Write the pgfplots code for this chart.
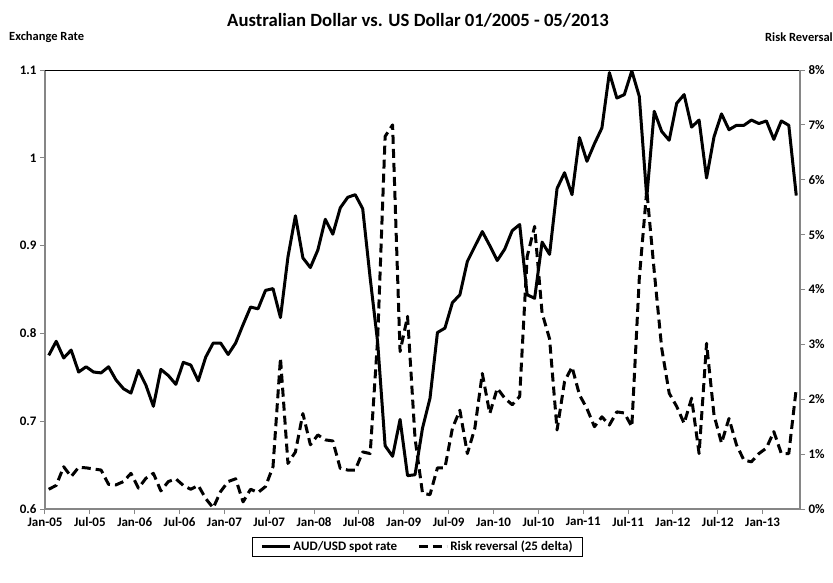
\documentclass[border=0pt]{standalone}
\usepackage{pgfplots}
\usepackage{pgfplotstable}
\pgfplotsset{compat=1.18}
\usepackage{fontspec}
\setmainfont{Carlito}

\pgfplotstableread{
i v
0 0.775
1 0.791
2 0.772
3 0.781
4 0.756
5 0.762
6 0.756
7 0.755
8 0.762
9 0.747
10 0.737
11 0.732
12 0.758
13 0.741
14 0.717
15 0.759
16 0.752
17 0.742
18 0.767
19 0.764
20 0.746
21 0.773
22 0.789
23 0.789
24 0.776
25 0.789
26 0.810
27 0.830
28 0.828
29 0.849
30 0.851
31 0.818
32 0.887
33 0.934
34 0.886
35 0.875
36 0.895
37 0.930
38 0.913
39 0.943
40 0.955
41 0.958
42 0.942
43 0.863
44 0.790
45 0.672
46 0.660
47 0.702
48 0.638
49 0.639
50 0.692
51 0.726
52 0.801
53 0.806
54 0.835
55 0.844
56 0.882
57 0.899
58 0.916
59 0.900
60 0.883
61 0.896
62 0.917
63 0.924
64 0.844
65 0.840
66 0.904
67 0.890
68 0.965
69 0.983
70 0.958
71 1.023
72 0.996
73 1.016
74 1.034
75 1.097
76 1.068
77 1.072
78 1.099
79 1.070
80 0.955
81 1.053
82 1.030
83 1.020
84 1.062
85 1.072
86 1.035
87 1.043
88 0.977
89 1.024
90 1.050
91 1.032
92 1.037
93 1.037
94 1.043
95 1.039
96 1.042
97 1.021
98 1.042
99 1.037
100 0.957
}\spot

\pgfplotstableread{
i r
0 0.36
1 0.43
2 0.77
3 0.59
4 0.76
5 0.75
6 0.73
7 0.71
8 0.45
9 0.44
10 0.50
11 0.65
12 0.38
13 0.56
14 0.65
15 0.33
16 0.50
17 0.55
18 0.43
19 0.36
20 0.43
21 0.19
22 0.02
23 0.32
24 0.50
25 0.55
26 0.13
27 0.36
28 0.30
29 0.41
30 0.77
31 2.75
32 0.83
33 1.04
34 1.74
35 1.17
36 1.35
37 1.26
38 1.24
39 0.74
40 0.71
41 0.71
42 1.04
43 1.01
44 3.10
45 6.79
46 7.00
47 2.87
48 3.51
49 1.29
50 0.29
51 0.26
52 0.75
53 0.75
54 1.47
55 1.80
56 1.01
57 1.47
58 2.47
59 1.74
60 2.20
61 2.02
62 1.90
63 2.05
64 4.60
65 5.15
66 3.57
67 3.10
68 1.44
69 2.32
70 2.59
71 2.08
72 1.83
73 1.50
74 1.68
75 1.53
76 1.77
77 1.75
78 1.50
79 4.20
80 5.81
81 4.33
82 2.93
83 2.11
84 1.87
85 1.56
86 2.02
87 1.01
88 3.02
89 1.71
90 1.20
91 1.65
92 1.17
93 0.89
94 0.86
95 1.01
96 1.11
97 1.41
98 1.01
99 1.01
100 2.20
}\rr

\definecolor{axgray}{RGB}{134,134,134}

\begin{document}
\begin{tikzpicture}
\pgfplotsset{
  common/.style={
    scale only axis, width=755pt, height=439pt,
    xmin=-0.5, xmax=100.5,
    at={(0pt,0pt)}, anchor=south west,
    tick align=outside, major tick length=5pt,
    tick style={axgray, line width=1pt},
    axis line style={-, draw=axgray, line width=1.2pt},
    ticklabel style={font=\bfseries\fontsize{13}{15}\selectfont, text=black},
    /pgf/number format/assume math mode=true,
  }
}
\begin{axis}[common,
  ymin=0.6, ymax=1.1,
  axis x line*=bottom, axis y line*=left,
  ytick={0.6,0.7,0.8,0.9,1.0,1.1},
  yticklabels={0.6,0.7,0.8,0.9,1,1.1},
  xtick={-0.5,5.5,11.5,17.5,23.5,29.5,35.5,41.5,47.5,53.5,59.5,65.5,71.5,77.5,83.5,89.5,95.5},
  xticklabels={Jan-05,Jul-05,Jan-06,Jul-06,Jan-07,Jul-07,Jan-08,Jul-08,Jan-09,Jul-09,Jan-10,Jul-10,Jan-11,Jul-11,Jan-12,Jul-12,Jan-13},
]
\draw[black, line width=1pt] (rel axis cs:0,1) -- (rel axis cs:1,1);
\addplot[black, line width=3pt, line join=round] table[x=i, y=v]{\spot};
\end{axis}
\begin{axis}[common,
  ymin=0, ymax=8,
  axis y line*=right, axis x line=none,
  ytick={0,1,2,3,4,5,6,7,8},
  yticklabels={0\%,1\%,2\%,3\%,4\%,5\%,6\%,7\%,8\%},
  legend columns=2,
  legend style={at={(axis description cs:0.4934,-0.0854)}, anchor=center,
    draw=black, line width=0.8pt, font=\bfseries\fontsize{13}{15}\selectfont,
    inner xsep=8pt, inner ysep=2pt,
    /tikz/every even column/.append style={column sep=18pt}},
  legend image code/.code={\draw[#1] (0pt,0pt) -- (28pt,0pt);},
]
\addlegendimage{black, line width=3pt}
\addlegendentry{AUD/USD spot rate}
\addplot[black, line width=3pt, line join=round, dash pattern=on 9pt off 5pt] table[x=i, y=r]{\rr};
\addlegendentry{Risk reversal (25 delta)}
\end{axis}
\node[font=\bfseries\fontsize{18.7}{22}\selectfont, inner sep=0pt] at (373pt,489pt) {Australian Dollar vs. US Dollar 01/2005 - 05/2013};
\node[font=\bfseries\fontsize{12.5}{14}\selectfont, inner sep=0pt, anchor=west] at (-36pt,472pt) {Exchange Rate};
\node[font=\bfseries\fontsize{12.5}{14}\selectfont, inner sep=0pt, anchor=east] at (788pt,472pt) {Risk Reversal};
\pgfresetboundingbox
\useasboundingbox (-45pt,-73pt) rectangle (788pt,509pt);
\end{tikzpicture}
\end{document}
